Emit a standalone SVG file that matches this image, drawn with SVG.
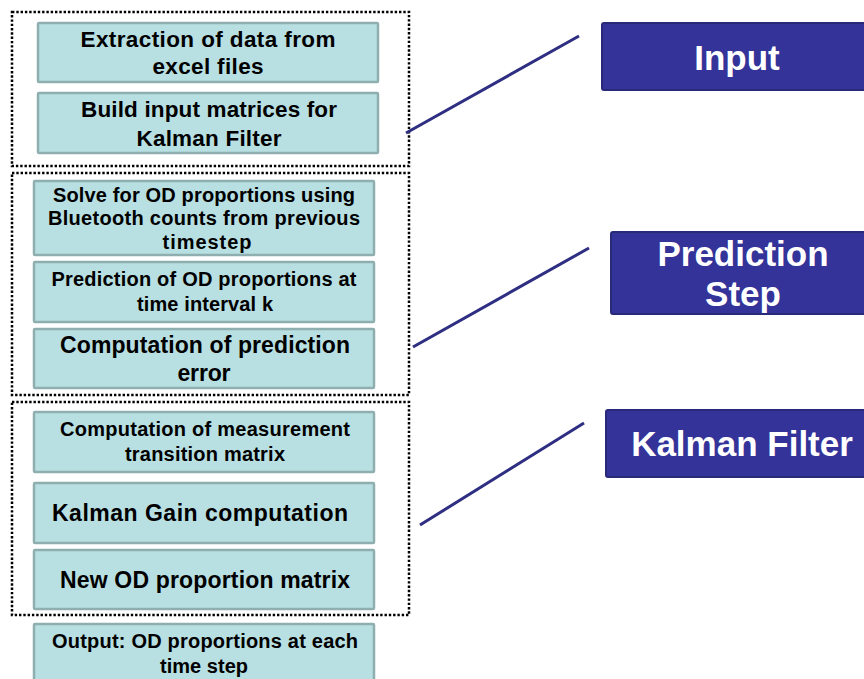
<svg xmlns="http://www.w3.org/2000/svg" width="864" height="679" viewBox="0 0 864 679">
<style>
.grp{fill:none;stroke:#000;stroke-width:2.5;stroke-dasharray:2.4 1.9}
.step{fill:#B8DFE2;stroke:#8FAEAF;stroke-width:2.5}
.stage{fill:#333399;stroke:#29297A;stroke-width:2}
.t{font-family:"Liberation Sans",Arial,sans-serif;font-weight:bold;fill:#000;text-anchor:middle}
.s{font-size:20px}
.m{font-size:22.5px}
.l{font-size:23px}
.w{font-family:"Liberation Sans",Arial,sans-serif;font-weight:bold;fill:#fff;text-anchor:middle;font-size:35px}
.c{stroke:#2E2E82;stroke-width:3;fill:none}
</style>
<rect width="864" height="679" fill="#fff"/>
<g id="containers">
<rect class="grp" x="12" y="12" width="397" height="154"/>
<rect class="grp" x="12" y="173" width="397" height="222"/>
<rect class="grp" x="12" y="402" width="397" height="213"/>
</g>
<g id="n1"><rect class="step" x="38" y="23" width="340" height="59" rx="1"/>
<text class="t m" x="208" y="47" textLength="255">Extraction of data from</text>
<text class="t m" x="208" y="74" textLength="111">excel files</text></g>
<g id="n2"><rect class="step" x="38" y="93" width="340" height="60" rx="1"/>
<text class="t m" x="209" y="117" textLength="256">Build input matrices for</text>
<text class="t m" x="209" y="146" textLength="145">Kalman Filter</text></g>
<g id="n3"><rect class="step" x="34" y="181" width="340" height="74" rx="1"/>
<text class="t s" x="204" y="202" textLength="302">Solve for OD proportions using</text>
<text class="t s" x="204" y="225" textLength="312">Bluetooth counts from previous</text>
<text class="t s" x="207" y="249" textLength="89">timestep</text></g>
<g id="n4"><rect class="step" x="34" y="262" width="340" height="60" rx="1"/>
<text class="t s" x="204" y="286" textLength="305">Prediction of OD proportions at</text>
<text class="t s" x="205" y="311" textLength="136">time interval k</text></g>
<g id="n5"><rect class="step" x="34" y="329" width="340" height="59" rx="1"/>
<text class="t l" x="205" y="353" textLength="290">Computation of prediction</text>
<text class="t l" x="204" y="381" textLength="53">error</text></g>
<g id="n6"><rect class="step" x="34" y="412" width="340" height="60" rx="1"/>
<text class="t s" x="205" y="436" textLength="290">Computation of measurement</text>
<text class="t s" x="205" y="461" textLength="160">transition matrix</text></g>
<g id="n7"><rect class="step" x="34" y="483" width="340" height="60" rx="1"/>
<text class="t l" x="200" y="521" textLength="296">Kalman Gain computation</text></g>
<g id="n8"><rect class="step" x="34" y="550" width="340" height="59" rx="1"/>
<text class="t l" x="205" y="588" textLength="290">New OD proportion matrix</text></g>
<g id="n9"><rect class="step" x="34" y="624" width="340" height="70" rx="1"/>
<text class="t s" x="205" y="648" textLength="306">Output: OD proportions at each</text>
<text class="t s" x="204" y="673" textLength="88">time step</text></g>
<g id="input"><rect class="stage" x="602" y="23" width="272" height="67" rx="2"/>
<text class="w" x="737" y="70">Input</text></g>
<g id="prediction"><rect class="stage" x="611" y="232" width="266" height="82" rx="2"/>
<text class="w" x="743" y="266">Prediction</text>
<text class="w" x="743" y="306">Step</text></g>
<g id="kalman"><rect class="stage" x="606" y="410" width="272" height="67" rx="2"/>
<text class="w" x="742" y="456">Kalman Filter</text></g>
<g id="connectors">
<line class="c" x1="406" y1="133" x2="579" y2="36"/>
<line class="c" x1="413" y1="347" x2="589" y2="248"/>
<line class="c" x1="420" y1="525" x2="584" y2="423"/>
</g>
</svg>
